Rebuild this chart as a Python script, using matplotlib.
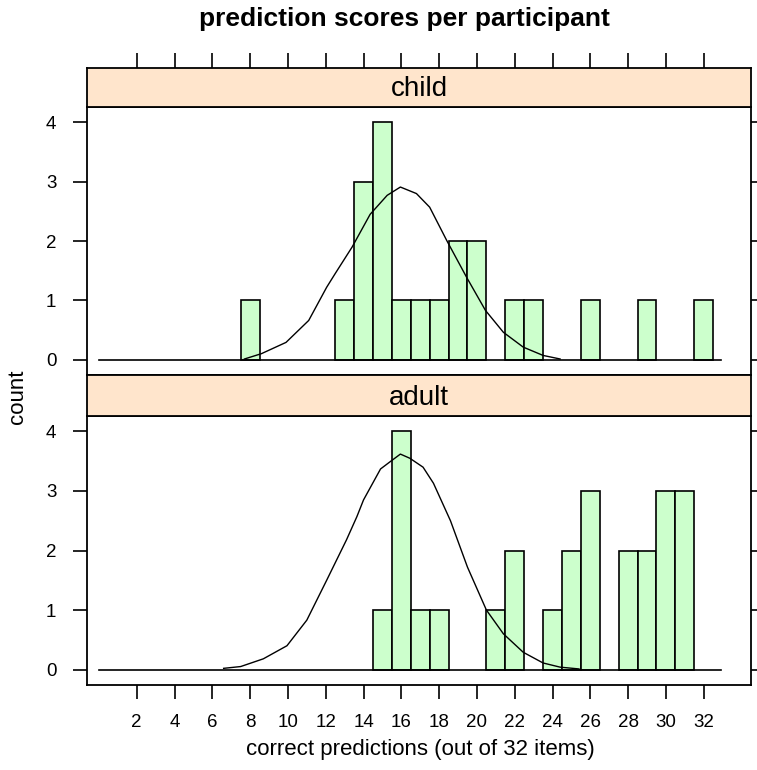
import numpy as np
import matplotlib
matplotlib.use("Agg")
import matplotlib.pyplot as plt

plt.rcParams['font.family'] = ['Liberation Sans', 'DejaVu Sans']

# histogram counts per score (bins of width 1 centred on integers)
child_scores = [8, 13, 14, 15, 16, 17, 18, 19, 20, 22, 23, 26, 29, 32]
child_counts = [1, 1, 3, 4, 1, 1, 1, 2, 2, 1, 1, 1, 1, 1]
adult_scores = [15, 16, 17, 18, 21, 22, 24, 25, 26, 28, 29, 30, 31]
adult_counts = [1, 4, 1, 1, 1, 2, 1, 2, 3, 2, 2, 3, 3]

# density curve (x, scaled count)
child_curve_x = [7.7, 8.6, 9.9, 11.1, 12.05, 12.5, 13.4, 14.35, 15.25, 15.95,
                 16.8, 17.5, 18.4, 19.45, 20.45, 21.4, 22.45, 23.5, 24.4]
child_curve_y = [0.01, 0.10, 0.29, 0.66, 1.22, 1.45, 1.90, 2.45, 2.77, 2.91,
                 2.80, 2.57, 2.01, 1.39, 0.83, 0.46, 0.21, 0.07, 0.01]
adult_curve_x = [6.6, 7.5, 8.7, 9.95, 11.0, 12.05, 13.1, 13.65, 14.0, 14.9, 15.4,
                 15.95, 16.45, 17.15, 17.7, 18.6, 19.5, 20.5, 21.4, 22.45,
                 23.5, 24.4, 25.4]
adult_curve_y = [0.02, 0.05, 0.18, 0.40, 0.83, 1.50, 2.18, 2.57, 2.85, 3.37, 3.49,
                 3.62, 3.55, 3.40, 3.13, 2.50, 1.72, 1.00, 0.60, 0.29,
                 0.11, 0.04, 0.01]

panels = ["child", "adult"]
xticks = list(range(2, 33, 2))
yticks = [0, 1, 2, 3, 4]

W, H = 757, 770
fig = plt.figure(figsize=(W / 100, H / 100), dpi=100)

def box(x0, y0, x1, y1):
    # pixel box (top-left origin) -> figure fraction rect
    return [x0 / W, 1 - y1 / H, (x1 - x0) / W, (y1 - y0) / H]

XLIM = (-0.63, 34.5)
YLIM = (-0.26, 4.26)
bar_col = "#ccffcc"
strip_col = "#ffe5cc"

layout = {
    "child": dict(strip=(68, 107), panel=(107, 375)),
    "adult": dict(strip=(375, 416), panel=(416, 685)),
}
data = {
    "child": (child_scores, child_counts, child_curve_x, child_curve_y),
    "adult": (adult_scores, adult_counts, adult_curve_x, adult_curve_y),
}

for i, name in enumerate(panels):
    s0, s1 = layout[name]["strip"]
    p0, p1 = layout[name]["panel"]
    scores, counts, cx, cy = data[name]

    ax = fig.add_axes(box(87, p0, 751, p1))
    ax.bar(scores, counts, width=1.0, color=bar_col, edgecolor="black", linewidth=1.2)
    ax.plot([0, 32.9], [0, 0], color="black", lw=1.2)
    ax.plot(cx, cy, color="black", lw=1.0)
    ax.set_xlim(*XLIM)
    ax.set_ylim(*YLIM)
    ax.set_yticks(yticks)
    ax.tick_params(axis="y", which="both", direction="out", length=10, width=1.2,
                   left=True, right=True, labelleft=True, labelsize=13.5, pad=12)
    if name == "adult":
        ax.set_xticks(xticks)
        ax.tick_params(axis="x", direction="out", length=10, width=1.2,
                       labelsize=13.5, pad=11)
    else:
        ax.set_xticks([])
    for sp in ax.spines.values():
        sp.set_linewidth(1.3)

    sax = fig.add_axes(box(87, s0, 751, s1))
    sax.set_facecolor(strip_col)
    sax.set_xlim(*XLIM)
    sax.set_yticks([])
    if i == 0:
        sax.set_xticks(xticks)
        sax.tick_params(axis="x", direction="out", length=11, width=1.2,
                        bottom=False, top=True, labelbottom=False, labeltop=False)
    else:
        sax.set_xticks([])
    for sp in sax.spines.values():
        sp.set_linewidth(1.3)
    sax.text(0.5, 0.45, name, transform=sax.transAxes, ha="center", va="center",
             fontsize=20)

fig.text(404 / W, 1 - 19 / H, "prediction scores per participant",
         ha="center", va="center", fontsize=19, fontweight="bold")
fig.text(420 / W, 1 - 749 / H, "correct predictions (out of 32 items)",
         ha="center", va="center", fontsize=16)
fig.text(17 / W, 1 - 397 / H, "count", ha="center", va="center",
         rotation=90, fontsize=16)

fig.savefig("out.png", dpi=100)
